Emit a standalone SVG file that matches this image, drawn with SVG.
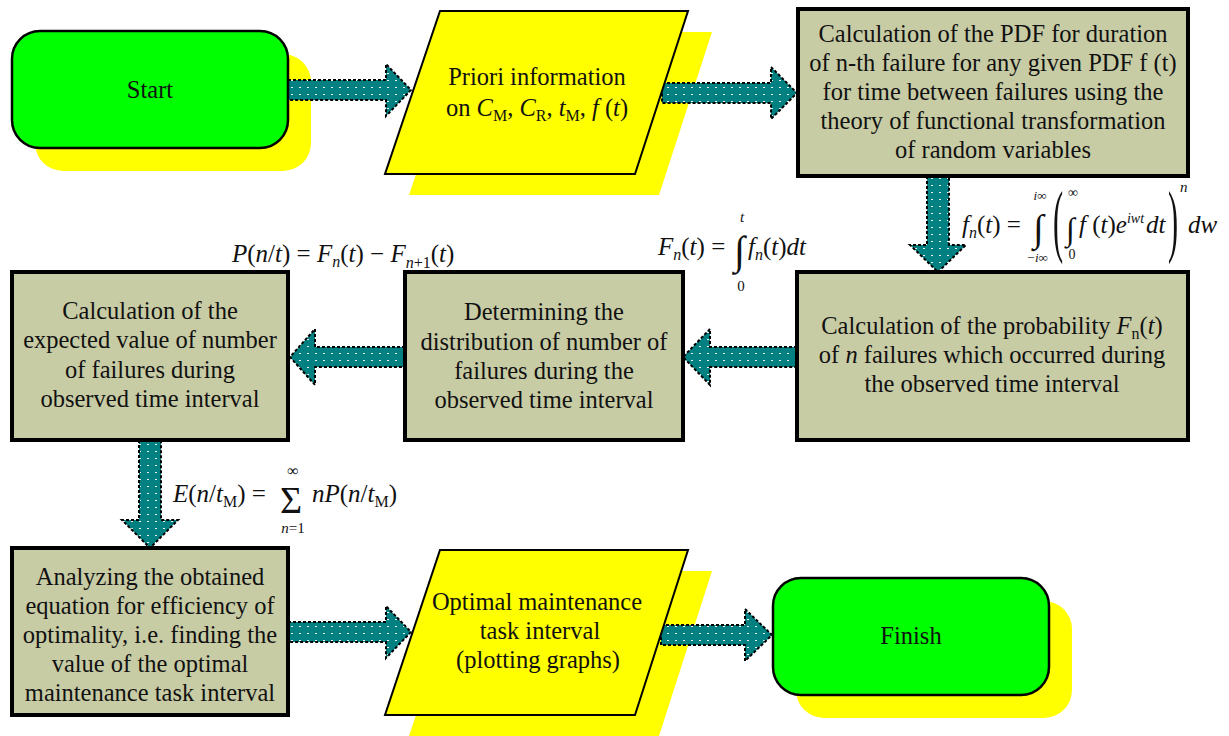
<svg xmlns="http://www.w3.org/2000/svg" width="1229" height="736" viewBox="0 0 1229 736" font-family="'Liberation Serif', 'DejaVu Serif', serif">
<style>
text, tspan{font-family:'Liberation Serif','DejaVu Serif',serif;}
text{fill:#111;}
.t{font-size:24.5px;text-anchor:middle;}
.m{font-size:25px;}
.i{font-style:italic;}
.s{font-size:16px;}
.sm{font-size:15px;}
.box{fill:#c8cca5;stroke:#000;stroke-width:4;}
.term{fill:#00ff00;stroke:#000;stroke-width:2.5;}
.para{fill:#ffff00;stroke:#000;stroke-width:2;}
.shadow{fill:#ffff00;stroke:none;}
.arrow{fill:url(#dots);stroke:#000;stroke-width:2;stroke-dasharray:3 2;}
</style>
<defs>
<pattern id="dots" width="8" height="7" patternUnits="userSpaceOnUse">
<rect width="8" height="7" fill="#008080"/>
<rect x="3" y="3" width="2" height="1" fill="#e8f4f4"/>
</pattern>
</defs>
<rect width="1229" height="736" fill="#fff"/>
<g id="shadows">
<rect class="shadow" x="35" y="54" width="276" height="117" rx="28"/>
<polygon class="shadow" points="464,32 712,32 659,195 409,195"/>
<polygon class="shadow" points="464,571 712,571 659,736 409,736"/>
<rect class="shadow" x="796" y="601" width="276" height="117" rx="28"/>
</g>
<g id="connectors">
<path class="arrow" d="M288,80 H386 V64 L411,90 L386,116 V100 H288 Z"/>
<path class="arrow" d="M662,83 H771 V67 L797,93 L771,119 V103 H662 Z"/>
<path class="arrow" d="M927,176 V245 H910 L938,272 L966,245 H949 V176 Z"/>
<path class="arrow" d="M797,347 H710 V329 L683,357 L710,385 V367 H797 Z"/>
<path class="arrow" d="M405,347 H315 V329 L290,357 L315,385 V367 H405 Z"/>
<path class="arrow" d="M139,440 V520 H122 L150,548 L178,520 H161 V440 Z"/>
<path class="arrow" d="M288,622 H386 V606 L411,632 L386,658 V642 H288 Z"/>
<path class="arrow" d="M661,625 H745 V609 L772,635 L745,661 V645 H661 Z"/>
</g>
<g id="start">
<rect class="term" x="12" y="31" width="276" height="117" rx="28"/>
<text class="t" x="150" y="98">Start</text>
</g>
<g id="priori">
<polygon class="para" points="440,11 688,11 635,174 385,174"/>
<text class="t" x="537" y="85">Priori information</text>
<text class="t" x="537" y="116">on <tspan class="i">C</tspan><tspan class="s" dy="5">M</tspan><tspan dy="-5">, </tspan><tspan class="i">C</tspan><tspan class="s" dy="5">R</tspan><tspan dy="-5">, </tspan><tspan class="i">t</tspan><tspan class="s" dy="5">M</tspan><tspan dy="-5">, </tspan><tspan class="i">f</tspan> (<tspan class="i">t</tspan>)</text>
</g>
<g id="pdf-nth">
<rect class="box" x="798" y="9" width="390" height="167"/>
<text class="t" x="993" y="42">Calculation of the PDF for duration</text>
<text class="t" x="993" y="71">of n-th failure for any given PDF f (t)</text>
<text class="t" x="993" y="100">for time between failures using the</text>
<text class="t" x="993" y="129">theory of functional transformation</text>
<text class="t" x="993" y="158">of random variables</text>
</g>
<g id="prob-fn">
<rect class="box" x="797" y="272" width="391" height="168"/>
<text class="t" x="992" y="334">Calculation of the probability <tspan class="i">F</tspan><tspan class="s" dy="5">n</tspan><tspan dy="-5">(</tspan><tspan class="i">t</tspan>)</text>
<text class="t" x="992" y="363">of <tspan class="i">n</tspan> failures which occurred during</text>
<text class="t" x="992" y="392">the observed time interval</text>
</g>
<g id="distribution">
<rect class="box" x="405" y="272" width="278" height="168"/>
<text class="t" x="544" y="320">Determining the</text>
<text class="t" x="544" y="350">distribution of number of</text>
<text class="t" x="544" y="379">failures during the</text>
<text class="t" x="544" y="408">observed time interval</text>
</g>
<g id="expected">
<rect class="box" x="12" y="272" width="276" height="168"/>
<text class="t" x="150" y="319">Calculation of the</text>
<text class="t" x="150" y="348">expected value of number</text>
<text class="t" x="150" y="378">of failures during</text>
<text class="t" x="150" y="407">observed time interval</text>
</g>
<g id="analyzing">
<rect class="box" x="12" y="548" width="276" height="167"/>
<text class="t" x="150" y="585">Analyzing the obtained</text>
<text class="t" x="150" y="614">equation for efficiency of</text>
<text class="t" x="150" y="643">optimality, i.e. finding the</text>
<text class="t" x="150" y="672">value of the optimal</text>
<text class="t" x="150" y="701">maintenance task interval</text>
</g>
<g id="optimal">
<polygon class="para" points="440,550 688,550 635,715 385,715"/>
<text class="t" x="537" y="610">Optimal maintenance</text>
<text class="t" x="540" y="639">task interval</text>
<text class="t" x="538" y="668">(plotting graphs)</text>
</g>
<g id="finish">
<rect class="term" x="773" y="578" width="276" height="117" rx="28"/>
<text class="t" x="911" y="644">Finish</text>
</g>
<g id="formulas">
<text class="m" x="962" y="233" font-size="23"><tspan class="i">f</tspan><tspan class="i s" dy="5">n</tspan><tspan dy="-5">(</tspan><tspan class="i">t</tspan>) =</text>
<text x="1033" y="241" font-size="38">∫</text>
<text class="i" x="1040" y="200" text-anchor="middle" font-size="13">i∞</text>
<text class="i" x="1037" y="262" text-anchor="middle" font-size="13">−i∞</text>
<text transform="translate(1053,247) scale(0.38,1)" font-size="80">(</text>
<text x="1066" y="240" font-size="32">∫</text>
<text x="1073" y="197" text-anchor="middle" font-size="14">∞</text>
<text x="1072" y="259" text-anchor="middle" font-size="14">0</text>
<text class="m" x="1079" y="233" font-size="22"><tspan class="i">f</tspan> (<tspan class="i">t</tspan>)<tspan class="i">e</tspan><tspan class="i" font-size="14" dy="-10">iwt</tspan><tspan class="i" dy="10" dx="2">dt</tspan></text>
<text transform="translate(1168,247) scale(0.38,1)" font-size="80">)</text>
<text class="i sm" x="1180" y="192">n</text>
<text class="m i" x="1188" y="233" font-size="23">dw</text>
<text class="m" x="658" y="255"><tspan class="i">F</tspan><tspan class="i s" dy="5">n</tspan><tspan dy="-5">(</tspan><tspan class="i">t</tspan>) =</text>
<text x="734" y="264" font-size="40">∫</text>
<text class="i sm" x="742" y="222" text-anchor="middle">t</text>
<text class="sm" x="741" y="291" text-anchor="middle">0</text>
<text class="m" x="748" y="255"><tspan class="i">f</tspan><tspan class="i s" dy="5">n</tspan><tspan dy="-5">(</tspan><tspan class="i">t</tspan>)<tspan class="i">dt</tspan></text>
<text class="m" x="232" y="262"><tspan class="i">P</tspan>(<tspan class="i">n</tspan>/<tspan class="i">t</tspan>) = <tspan class="i">F</tspan><tspan class="i s" dy="5">n</tspan><tspan dy="-5">(</tspan><tspan class="i">t</tspan>) − <tspan class="i">F</tspan><tspan class="i s" dy="6">n</tspan><tspan class="s">+1</tspan><tspan dy="-6">(</tspan><tspan class="i">t</tspan>)</text>
<text class="m" x="173" y="502"><tspan class="i">E</tspan>(<tspan class="i">n</tspan>/<tspan class="i">t</tspan><tspan class="s" dy="5">M</tspan><tspan dy="-5">) =</tspan></text>
<text x="280" y="513" font-size="38">Σ</text>
<text class="s" x="293" y="476" text-anchor="middle">∞</text>
<text class="sm" x="293" y="533" text-anchor="middle"><tspan class="i">n</tspan>=1</text>
<text class="m" x="312" y="502"><tspan class="i">nP</tspan>(<tspan class="i">n</tspan>/<tspan class="i">t</tspan><tspan class="s" dy="5">M</tspan><tspan dy="-5">)</tspan></text>
</g>
</svg>
